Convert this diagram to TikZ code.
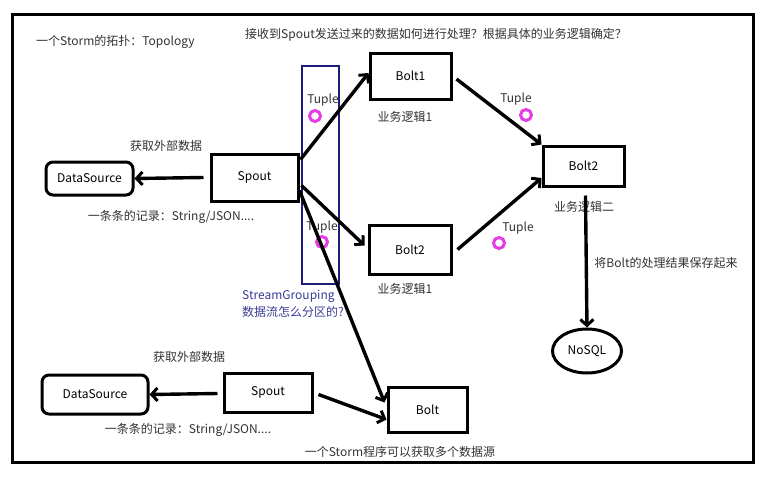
\documentclass[tikz,border=0pt]{standalone}
\usepackage{fontspec}
\setmainfont{Noto Sans CJK SC}
\usetikzlibrary{arrows.meta,calc,shapes.geometric}
\definecolor{navy}{RGB}{30,30,120}
\definecolor{sgblue}{RGB}{60,60,150}
\definecolor{ringpink}{RGB}{230,60,230}
\tikzset{
  box/.style={draw,line width=3pt,minimum width=#1,inner sep=0pt,font=\fontsize{12}{14}\selectfont},
  rbox/.style={draw,line width=3pt,rounded corners=7pt,inner sep=0pt,font=\fontsize{12}{14}\selectfont},
  lbl/.style={inner sep=0pt,font=\fontsize{12}{14}\selectfont,text=black!80},
  conn/.style={line width=3.4pt,-{Straight Barb[length=6pt,width=13pt,line width=3pt]}},
  ring/.style={draw=ringpink,fill=white,line width=3pt,circle,minimum size=11pt,inner sep=0pt}
}
\begin{document}
\begin{tikzpicture}[x=1pt,y=-1pt]
\useasboundingbox[fill=white] (0,0) rectangle (772,483);
\draw[line width=3pt] (12,14) rectangle (753,462);
% titles
\node[lbl,anchor=west] (t1) at (36,42) {一个Storm的拓扑：Topology};
\node[lbl] (t2) at (436,35) {接收到Spout发送过来的数据如何进行处理？根据具体的业务逻辑确定？};
% grouping rectangle
\draw[navy,line width=2.2pt] (302,66) rectangle (339,284);
% nodes
\node[box=81pt,minimum height=46pt] (bolt1) at (410.5,76) {Bolt1};
\node[lbl] (bl1) at (405,117) {业务逻辑1};
\node[box=87pt,minimum height=47pt] (spout) at (254.5,177.5) {Spout};
\node[rbox,minimum width=87pt,minimum height=33pt] (ds1) at (89.5,178.5) {DataSource};
\node[lbl] (g1) at (166,146) {获取外部数据};
\node[lbl] (r1) at (171,217) {一条条的记录：String/JSON....};
\node[box=82pt,minimum height=49pt] (bolt2m) at (410,249.5) {Bolt2};
\node[lbl] (bl2) at (405,289) {业务逻辑1};
\node[box=81pt,minimum height=40pt] (bolt2r) at (583.5,166) {Bolt2};
\node[lbl] (bl3) at (584,207) {业务逻辑二};
\node[draw,ellipse,line width=3pt,minimum width=69pt,minimum height=44pt,inner sep=0pt,font=\fontsize{12}{14}\selectfont] (nosql) at (587,351) {NoSQL};
\node[lbl] (save) at (666,263) {将Bolt的处理结果保存起来};
% tuples
\node[lbl] (tp1) at (323,100) {Tuple};
\node[ring] (c1) at (315,116) {};
\node[lbl] (tp2) at (322,227) {Tuple};
\node[ring] (c2) at (322,242) {};
\node[lbl] (tp3) at (516,99) {Tuple};
\node[ring] (c3) at (526,115) {};
\node[lbl] (tp4) at (518,228) {Tuple};
\node[ring] (c4) at (499,243) {};
% stream grouping
\node[lbl,anchor=west,text=sgblue] (sg1) at (242,296) {StreamGrouping};
\node[lbl,anchor=west,text=sgblue] (sg2) at (242,312) {数据流怎么分区的?};
% lower part
\node[rbox,minimum width=106pt,minimum height=39pt] (ds2) at (95,394.5) {DataSource};
\node[box=88pt,minimum height=39pt] (spout2) at (268,392.5) {Spout};
\node[box=79pt,minimum height=45pt] (bolt3) at (427.5,409.5) {Bolt};
\node[lbl] (g2) at (189,357) {获取外部数据};
\node[lbl] (r2) at (188,430) {一条条的记录：String/JSON....};
\node[lbl] (multi) at (400,452) {一个Storm程序可以获取多个数据源};
% connectors
\draw[conn] ($(spout.north east)+(1,7)$) -- ($(bolt1.west)+(0,-3)$);
\draw[conn] ($(spout.east)+(2,8)$) -- ($(bolt2m.west)+(-3,-4)$);
\draw[conn] ($(spout.east)+(0,13)$) -- ($(bolt3.north west)+(-2,17)$);
\draw[conn] ($(bolt1.east)+(4,3)$) -- (bolt2r.north west);
\draw[conn] ($(bolt2m.east)+(5,0)$) -- ($(bolt2r.west)+(0,12)$);
\draw[conn] ($(bolt2r.south)+(2,8)$) -- (nosql.north);
\draw[conn] ($(spout.west)+(-6,0)$) -- (ds1.east);
\draw[conn] ($(spout2.west)+(-5,1)$) -- (ds2.east);
\draw[conn] ($(spout2.east)+(5,2)$) -- ($(bolt3.west)+(0,10)$);
\end{tikzpicture}
\end{document}
